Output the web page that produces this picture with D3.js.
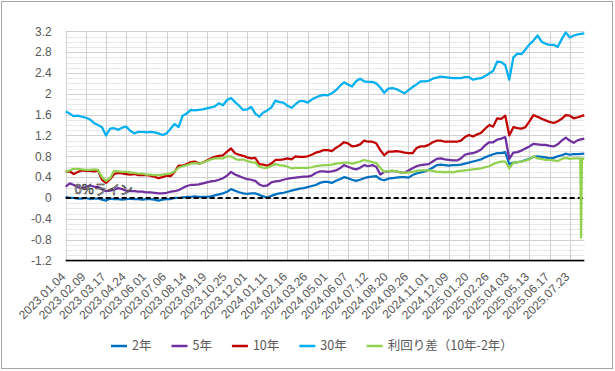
<!DOCTYPE html>
<html>
  <head>
    <meta charset="utf-8">
    <title>国債利回り</title>
    <script src="https://d3js.org/d3.v7.min.js"></script>
    <style>
      body { margin: 0; background: #fff; }
      svg { font-family: "Liberation Sans", "Noto Sans CJK JP", sans-serif; }
      .ylab text, .xlab text { fill: #595959; font-size: 12px; }
      .legend text { fill: #595959; font-size: 12.5px; font-family: "Noto Sans CJK JP", sans-serif; }
    </style>
  </head>
  <body>
    <svg id="chart" width="615" height="371"></svg>
    <script>
      // tick labels on the category axis, one every 25 trading days
      const dateLabels = ["2023.01.04", "2023.02.09", "2023.03.17", "2023.04.24", "2023.06.01", "2023.07.06",
        "2023.08.14", "2023.09.19", "2023.10.25", "2023.12.01", "2024.01.11", "2024.02.16", "2024.03.26",
        "2024.05.01", "2024.06.07", "2024.07.12", "2024.08.20", "2024.09.26", "2024.11.01", "2024.12.09",
        "2025.01.20", "2025.02.26", "2025.04.03", "2025.05.13", "2025.06.17", "2025.07.23"];
      const lastDay = 643;
      // trading-day index of each sample (about one a week)
      const sampleDays = d3.range(0, 640, 5).concat([643]);

      // yields in %
      const y2 = [0.02,0.00,0.00,-0.01,-0.01,0.00,-0.02,-0.01,-0.01,-0.03,-0.05,-0.01,-0.02,-0.02,-0.03,-0.02,-0.01,-0.02,-0.02,-0.03,-0.02,-0.02,-0.03,-0.05,-0.03,-0.02,-0.02,0.00,0.00,0.01,0.02,0.02,0.03,
        0.02,0.02,0.02,0.03,0.05,0.07,0.09,0.12,0.17,0.14,0.11,0.09,0.08,0.09,0.09,0.06,0.03,0.01,0.04,0.07,0.09,0.10,0.12,0.14,0.16,0.18,0.19,0.21,0.23,0.25,0.29,0.31,
        0.31,0.29,0.33,0.36,0.40,0.38,0.35,0.33,0.35,0.38,0.40,0.41,0.42,0.36,0.34,0.37,0.38,0.39,0.40,0.40,0.39,0.44,0.47,0.49,0.51,0.54,0.58,0.63,0.64,0.63,0.62,0.63,
        0.63,0.64,0.66,0.68,0.70,0.72,0.74,0.78,0.81,0.84,0.86,0.86,0.88,0.65,0.68,0.69,0.70,0.73,0.75,0.79,0.80,0.79,0.78,0.76,0.77,0.80,0.82,0.85,0.83,0.84,0.84,0.85];
      const y5 = [0.22,0.28,0.25,0.21,0.19,0.21,0.24,0.22,0.21,0.17,0.13,0.14,0.16,0.19,0.17,0.14,0.13,0.13,0.12,0.12,0.11,0.11,0.10,0.09,0.09,0.10,0.12,0.13,0.15,0.19,0.23,0.25,0.25,
        0.26,0.28,0.30,0.32,0.33,0.35,0.38,0.43,0.50,0.45,0.42,0.39,0.36,0.35,0.33,0.26,0.23,0.24,0.30,0.32,0.33,0.35,0.37,0.38,0.39,0.40,0.41,0.41,0.43,0.48,0.51,0.51,
        0.50,0.51,0.53,0.57,0.63,0.60,0.57,0.55,0.58,0.63,0.61,0.63,0.60,0.45,0.50,0.51,0.52,0.51,0.49,0.48,0.53,0.57,0.61,0.63,0.64,0.65,0.70,0.75,0.76,0.74,0.73,0.72,
        0.72,0.76,0.83,0.85,0.86,0.89,0.93,1.01,1.07,1.07,1.12,1.14,1.17,0.75,0.87,0.88,0.91,0.95,0.99,1.04,1.03,1.02,1.02,1.00,0.99,1.03,1.10,1.16,1.10,1.06,1.11,1.14];
      const y10 = [0.50,0.51,0.46,0.50,0.53,0.52,0.52,0.51,0.53,0.35,0.29,0.36,0.46,0.48,0.47,0.46,0.45,0.46,0.44,0.44,0.44,0.43,0.41,0.38,0.40,0.43,0.42,0.50,0.62,0.62,0.65,0.69,0.70,
        0.66,0.68,0.72,0.76,0.79,0.81,0.82,0.89,0.95,0.86,0.83,0.81,0.78,0.76,0.77,0.65,0.64,0.62,0.66,0.73,0.73,0.74,0.76,0.74,0.80,0.79,0.79,0.80,0.83,0.87,0.89,0.92,
        0.92,0.90,0.96,1.01,1.07,1.05,0.99,1.00,1.03,1.10,1.08,1.08,1.05,0.92,0.82,0.89,0.89,0.90,0.89,0.87,0.86,0.86,0.96,0.99,0.99,1.02,1.07,1.10,1.10,1.08,1.08,1.08,
        1.08,1.10,1.17,1.21,1.18,1.22,1.25,1.33,1.40,1.37,1.53,1.52,1.58,1.20,1.36,1.34,1.33,1.36,1.47,1.59,1.56,1.52,1.49,1.46,1.44,1.47,1.52,1.59,1.58,1.53,1.55,1.59];
      const y30 = [1.66,1.62,1.57,1.58,1.56,1.54,1.51,1.44,1.40,1.36,1.20,1.33,1.34,1.31,1.35,1.37,1.29,1.24,1.27,1.27,1.26,1.27,1.26,1.24,1.21,1.24,1.33,1.42,1.36,1.58,1.62,1.69,1.68,
        1.69,1.70,1.72,1.74,1.76,1.82,1.78,1.88,1.92,1.84,1.77,1.69,1.70,1.75,1.62,1.56,1.64,1.68,1.74,1.87,1.84,1.83,1.77,1.73,1.80,1.86,1.86,1.83,1.89,1.93,1.96,1.98,
        1.97,2.01,2.07,2.15,2.22,2.18,2.14,2.24,2.29,2.24,2.23,2.23,2.20,2.12,2.02,2.10,2.11,2.09,2.05,2.01,2.07,2.13,2.18,2.24,2.24,2.25,2.29,2.31,2.33,2.32,2.31,2.30,
        2.30,2.30,2.32,2.32,2.27,2.29,2.30,2.34,2.39,2.44,2.62,2.61,2.55,2.27,2.70,2.77,2.76,2.85,2.95,3.02,3.12,3.00,2.96,2.94,2.94,2.90,3.05,3.18,3.08,3.12,3.14,3.16];
      const spread = [0.50,0.53,0.56,0.56,0.55,0.54,0.54,0.55,0.54,0.40,0.33,0.38,0.52,0.51,0.50,0.50,0.49,0.48,0.47,0.47,0.45,0.45,0.44,0.44,0.45,0.46,0.47,0.51,0.58,0.61,0.63,0.66,0.67,
        0.66,0.68,0.71,0.74,0.76,0.76,0.76,0.80,0.80,0.75,0.73,0.74,0.71,0.69,0.68,0.60,0.58,0.58,0.62,0.65,0.63,0.62,0.60,0.57,0.58,0.58,0.58,0.58,0.59,0.61,0.62,0.63,
        0.63,0.64,0.66,0.67,0.68,0.68,0.66,0.68,0.70,0.73,0.71,0.69,0.67,0.58,0.50,0.52,0.52,0.51,0.49,0.48,0.49,0.50,0.52,0.53,0.53,0.53,0.52,0.50,0.50,0.49,0.50,0.49,
        0.51,0.52,0.53,0.54,0.55,0.56,0.57,0.59,0.61,0.65,0.68,0.70,0.70,0.57,0.68,0.69,0.70,0.72,0.74,0.80,0.76,0.75,0.73,0.73,0.72,0.71,0.75,0.77,0.75,0.76,0.76,0.75];
      // one bad day near the end drops the spread below zero
      const spreadDip = [[638, 0.76], [639, -0.76], [640, 0.76]];

      const series = [
        { name: "2年", color: "#0070c0", values: y2 },
        { name: "5年", color: "#7030a0", values: y5 },
        { name: "10年", color: "#c00000", values: y10 },
        { name: "30年", color: "#00b0f0", values: y30 },
        { name: "利回り差（10年-2年）", color: "#92d050", values: spread, extra: spreadDip }
      ];
      const yTicks = d3.range(-1.2, 3.21, 0.4).map(function(v) { return +v.toFixed(1); });
      const yMinor = d3.range(-1.2, 3.21, 0.1).map(function(v) { return +v.toFixed(1); });

      const svg = d3.select("#chart");
      const x = d3.scaleLinear().domain([0, lastDay]).range([65.7, 584.3]);
      const y = d3.scaleLinear().domain([-1.2, 3.2]).range([260.5, 31.3]);

      // outer frame
      svg.append("rect")
        .attr("x", 1.5).attr("y", 1.5).attr("width", 611).attr("height", 367)
        .attr("fill", "#fff").attr("stroke", "#a6a6a6");

      // grid
      const grid = svg.append("g");
      grid.selectAll(".minor")
        .data(yMinor)
        .enter().append("line")
          .attr("x1", x(0)).attr("x2", x(lastDay))
          .attr("y1", function(d) { return Math.round(y(d)) + 0.5; })
          .attr("y2", function(d) { return Math.round(y(d)) + 0.5; })
          .attr("stroke", "#e8e8e8");
      grid.selectAll(".major")
        .data(yTicks)
        .enter().append("line")
          .attr("x1", x(0)).attr("x2", x(lastDay))
          .attr("y1", function(d) { return Math.round(y(d)) + 0.5; })
          .attr("y2", function(d) { return Math.round(y(d)) + 0.5; })
          .attr("stroke", "#d0d0d0");
      grid.selectAll(".vert")
        .data(dateLabels)
        .enter().append("line")
          .attr("x1", function(d, i) { return Math.round(x(i * 25)) + 0.5; })
          .attr("x2", function(d, i) { return Math.round(x(i * 25)) + 0.5; })
          .attr("y1", y(3.2)).attr("y2", y(-1.2))
          .attr("stroke", "#d0d0d0");

      // axes
      svg.append("g")
        .attr("class", "ylab")
        .attr("transform", "translate(" + x(0) + ",0)")
        .call(d3.axisLeft(y).tickValues(yTicks).tickSize(0).tickPadding(14)
          .tickFormat(function(d) { return String(d); }))
        .call(function(g) { g.select(".domain").remove(); });
      const xAxis = svg.append("g")
        .attr("class", "xlab")
        .attr("transform", "translate(0," + y(-1.2) + ")")
        .call(d3.axisBottom(x).tickValues(dateLabels.map(function(d, i) { return i * 25; }))
          .tickSize(0).tickFormat(function(d) { return dateLabels[d / 25]; }));
      xAxis.select(".domain").remove();
      xAxis.selectAll("text")
        .attr("y", 0).attr("dy", "0.35em")
        .attr("text-anchor", "end")
        .attr("transform", "translate(-3,14) rotate(-45)");
      svg.append("line")
        .attr("x1", x(0)).attr("x2", x(lastDay))
        .attr("y1", y(-1.2)).attr("y2", y(-1.2))
        .attr("stroke", "#000").attr("stroke-width", 1.5);

      // lines
      const line = d3.line()
        .x(function(d) { return x(d[0]); })
        .y(function(d) { return y(d[1]); });
      function points(s) {
        var pts = s.values.map(function(v, i) { return [sampleDays[i], v]; });
        if (s.extra) pts = pts.concat(s.extra).sort(function(a, b) { return a[0] - b[0]; });
        return pts;
      }
      series.forEach(function(s, k) {
        svg.append("path")
          .datum(points(s))
          .attr("d", line)
          .attr("fill", "none")
          .attr("stroke", s.color)
          .attr("stroke-width", 2.25)
          .attr("stroke-linejoin", "round");
        if (k === 3) {
          // 0% line sits above the 2-year line
          svg.append("line")
            .attr("x1", x(0)).attr("x2", x(lastDay))
            .attr("y1", y(0)).attr("y2", y(0))
            .attr("stroke", "#000").attr("stroke-width", 2)
            .attr("stroke-dasharray", "5,3");
        }
      });

      svg.append("text")
        .attr("x", x(11)).attr("y", y(0) - 4)
        .attr("font-family", "'Noto Sans CJK JP', sans-serif")
        .attr("font-size", 13)
        .attr("fill", "#fff").attr("stroke", "#000").attr("stroke-width", 0.5)
        .text("0%ライン");

      // legend
      const legend = svg.append("g").attr("class", "legend");
      let lx = 111;
      series.forEach(function(s) {
        legend.append("line")
          .attr("x1", lx).attr("x2", lx + 16)
          .attr("y1", 346).attr("y2", 346)
          .attr("stroke", s.color).attr("stroke-width", 2.5);
        const t = legend.append("text")
          .attr("x", lx + 21).attr("y", 346).attr("dy", "0.35em")
          .text(s.name);
        lx += 21 + t.node().getComputedTextLength() + 20;
      });
    </script>
  </body>
</html>
